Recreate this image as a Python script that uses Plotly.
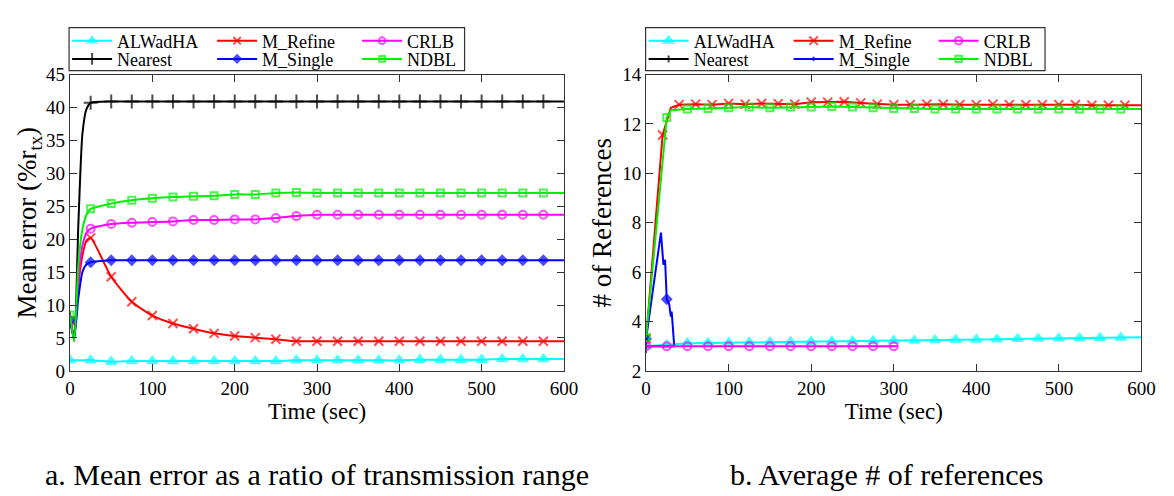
import plotly.graph_objects as go

# ---------------- data: left panel (mean error, % of r_tx) ----------------
t_left = [0, 5, 10, 15, 20, 25, 50, 75, 100, 125, 150, 175, 200, 225, 250, 275,
          300, 325, 350, 375, 400, 425, 450, 475, 500, 525, 550, 575, 600]
alwadha_err = [1.6, 1.6, 1.6, 1.6, 1.6, 1.6, 1.4, 1.5, 1.5, 1.5, 1.5, 1.5, 1.5, 1.5, 1.5, 1.6,
               1.6, 1.6, 1.6, 1.6, 1.6, 1.7, 1.7, 1.7, 1.7, 1.8, 1.8, 1.8, 1.8]
mrefine_err = [7.7, 5.5, 13.0, 17.5, 19.8, 20.2, 14.3, 10.5, 8.4, 7.2, 6.4, 5.7, 5.3, 5.05, 4.8, 4.5,
               4.5, 4.5, 4.5, 4.5, 4.5, 4.5, 4.5, 4.5, 4.5, 4.5, 4.5, 4.5, 4.5]
crlb_err = [7.5, 5.0, 14.0, 19.0, 21.0, 21.6, 22.3, 22.5, 22.6, 22.7, 22.9, 22.9, 23.0, 23.0, 23.2, 23.5,
            23.7, 23.7, 23.7, 23.7, 23.7, 23.7, 23.7, 23.7, 23.7, 23.7, 23.7, 23.7, 23.7]
nearest_err = [8.0, 4.6, 22.0, 36.0, 39.8, 40.7, 40.9, 40.9, 40.9, 40.9, 40.9, 40.9, 40.9, 40.9, 40.9, 40.9,
               40.9, 40.9, 40.9, 40.9, 40.9, 40.9, 40.9, 40.9, 40.9, 40.9, 40.9, 40.9, 40.9]
msingle_err = [7.7, 5.0, 11.0, 15.0, 16.2, 16.5, 16.8, 16.8, 16.8, 16.8, 16.8, 16.8, 16.8, 16.8, 16.8, 16.8,
               16.8, 16.8, 16.8, 16.8, 16.8, 16.8, 16.8, 16.8, 16.8, 16.8, 16.8, 16.8, 16.8]
ndbl_err = [8.5, 4.5, 16.0, 21.5, 23.7, 24.6, 25.4, 25.9, 26.2, 26.4, 26.5, 26.6, 26.8, 26.8, 27.0, 27.1,
            27.0, 27.0, 27.0, 27.0, 27.0, 27.0, 27.0, 27.0, 27.0, 27.0, 27.0, 27.0, 27.0]

# ---------------- data: right panel (# of references) ----------------
t_alwadha_ref = [0, 25, 50, 75, 100, 125, 150, 175, 200, 225, 250, 275, 300, 325, 350, 375,
                 400, 425, 450, 475, 500, 525, 550, 575, 600]
alwadha_ref = [3.0, 3.05, 3.12, 3.13, 3.14, 3.15, 3.16, 3.17, 3.18, 3.19, 3.2, 3.21, 3.22, 3.23, 3.25, 3.26,
               3.27, 3.28, 3.3, 3.31, 3.32, 3.33, 3.34, 3.35, 3.36]
t_mrefine_ref = [0, 20, 30, 40, 60, 80, 100, 120, 140, 160, 180, 200, 220, 240, 260, 280, 300,
                 320, 340, 360, 380, 400, 420, 440, 460, 480, 500, 520, 540, 560, 580, 600]
mrefine_ref = [3.3, 11.55, 12.65, 12.78, 12.8, 12.78, 12.83, 12.8, 12.83, 12.82, 12.8, 12.88, 12.88, 12.9,
               12.85, 12.8, 12.78, 12.78, 12.8, 12.8, 12.78, 12.78, 12.8, 12.78, 12.78, 12.78, 12.78,
               12.78, 12.76, 12.76, 12.76, 12.76]
t_crlb_ref = [0, 25, 50, 75, 100, 125, 150, 175, 200, 225, 250, 275, 300, 305]
crlb_ref = [3.0, 3.0, 3.0, 3.0, 3.0, 3.0, 3.0, 3.0, 3.0, 3.0, 3.0, 3.0, 3.0, 3.0]
t_nearest_ref = [0, 35]
nearest_ref = [3.0, 3.0]
t_msingle_ref = [0, 18, 21, 23, 25, 28, 30, 31, 34]
msingle_ref = [3.3, 7.6, 6.3, 6.5, 4.9, 4.7, 4.2, 4.4, 3.05]
t_ndbl_ref = [0, 25, 30, 50, 75, 100, 125, 150, 175, 200, 225, 250, 275, 300, 325, 350, 375,
              400, 425, 450, 475, 500, 525, 550, 575, 600]
ndbl_ref = [3.35, 12.26, 12.55, 12.6, 12.62, 12.65, 12.68, 12.65, 12.68, 12.68, 12.7, 12.68, 12.65,
            12.62, 12.62, 12.6, 12.6, 12.6, 12.6, 12.6, 12.6, 12.6, 12.6, 12.6, 12.6, 12.6]

# ---------------- figure ----------------
W, H = 1174, 496
FONT = "Times New Roman, Liberation Serif, Times, serif"

def px_x(p):
    return p / W

def px_y(p):
    return 1 - p / H

def msizes(ts, every, size, tmax=600):
    return [size if (t % every == 0 and t < tmax) else 0 for t in ts]

styles = {
    "ALWadHA": dict(color="#00FFFF", symbol="triangle-up", size=9),
    "M_Refine": dict(color="#FF0000", symbol="x-thin-open", size=9),
    "CRLB": dict(color="#FF00FF", symbol="circle-open", size=8),
    "Nearest": dict(color="#000000", symbol="cross-thin-open", size=10),
    "M_Single": dict(color="#0000FF", symbol="diamond", size=7),
    "NDBL": dict(color="#00F000", symbol="square-open", size=7),
}

fig = go.Figure()

left_series = [
    ("ALWadHA", t_left, alwadha_err, 25),
    ("M_Refine", t_left, mrefine_err, 25),
    ("CRLB", t_left, crlb_err, 25),
    ("Nearest", t_left, nearest_err, 25),
    ("M_Single", t_left, msingle_err, 25),
    ("NDBL", t_left, ndbl_err, 25),
]
right_series = [
    ("ALWadHA", t_alwadha_ref, alwadha_ref, 25),
    ("M_Refine", t_mrefine_ref, mrefine_ref, 20),
    ("Nearest", t_nearest_ref, nearest_ref, 25),
    ("M_Single", t_msingle_ref, msingle_ref, 25),
    ("CRLB", t_crlb_ref, crlb_ref, 25),
    ("NDBL", t_ndbl_ref, ndbl_ref, 25),
]

row_of = {"ALWadHA": 0, "M_Refine": 0, "CRLB": 0, "Nearest": 1, "M_Single": 1, "NDBL": 1}
legend_rank = {"ALWadHA": 1, "M_Refine": 2, "CRLB": 3, "Nearest": 4, "M_Single": 5, "NDBL": 6}

for name, ts, vs, every in left_series:
    s = styles[name]
    fig.add_trace(go.Scatter(
        x=ts, y=vs, name=name, mode="lines+markers", xaxis="x", yaxis="y",
        line=dict(color=s["color"], width=2, shape="spline", smoothing=0.6),
        marker=dict(symbol=s["symbol"], size=msizes(ts, every, s["size"]), color=s["color"],
                    line=dict(color=s["color"], width=2)),
        legend=["legend", "legend2"][row_of[name]], legendrank=legend_rank[name],
    ))

for name, ts, vs, every in right_series:
    s = styles[name]
    fig.add_trace(go.Scatter(
        x=ts, y=vs, name=name, mode="lines+markers", xaxis="x2", yaxis="y2",
        line=dict(color=s["color"], width=2),
        marker=dict(symbol=s["symbol"], size=msizes(ts, every, s["size"]), color=s["color"],
                    line=dict(color=s["color"], width=2)),
        legend=["legend3", "legend4"][row_of[name]], legendrank=legend_rank[name],
    ))

axis_common = dict(
    showline=True, linecolor="#333333", linewidth=1.3, mirror="ticks",
    ticks="inside", ticklen=7, tickwidth=1.1, tickcolor="#333333",
    showgrid=False, zeroline=False,
    tickfont=dict(family=FONT, size=19, color="black"),
)

L0, L1 = px_x(58), px_x(560)
R0, R1 = px_x(643.5), px_x(1147)
YB, YT = px_y(368.5), px_y(59)

fig.update_layout(
    width=W, height=H,
    margin=dict(l=0, r=0, t=0, b=0),
    paper_bgcolor="white", plot_bgcolor="white",
    font=dict(family=FONT, color="black"),
    xaxis=dict(domain=[L0, L1], range=[0, 600], dtick=100, anchor="y",
               title=dict(text="Time (sec)", font=dict(family=FONT, size=23), standoff=2),
               **axis_common),
    yaxis=dict(domain=[YB, YT], range=[0, 45], dtick=5, anchor="x",
               title=dict(text="Mean error (%r<sub>tx</sub>)", font=dict(family=FONT, size=27), standoff=0),
               **axis_common),
    xaxis2=dict(domain=[R0, R1], range=[0, 600], dtick=100, anchor="y2",
                title=dict(text="Time (sec)", font=dict(family=FONT, size=23), standoff=2),
                **axis_common),
    yaxis2=dict(domain=[YB, YT], range=[2, 14], dtick=2, anchor="x2",
                title=dict(text="# of References", font=dict(family=FONT, size=27), standoff=2),
                **axis_common),
    showlegend=True,
)

leg_common = dict(orientation="h", xanchor="left", yanchor="middle",
                  bgcolor="rgba(0,0,0,0)", borderwidth=0,
                  font=dict(family=FONT, size=18, color="black"),
                  entrywidth=90, entrywidthmode="pixels", itemwidth=40,
                  traceorder="normal")
fig.update_layout(
    legend=dict(x=px_x(55), y=px_y(24), **leg_common),
    legend2=dict(x=px_x(55), y=px_y(43), **leg_common),
    legend3=dict(x=px_x(641), y=px_y(24), **leg_common),
    legend4=dict(x=px_x(641), y=px_y(43), **leg_common),
)

# legend boxes
for x0, x1 in [(57, 459), (643, 1049)]:
    fig.add_shape(type="rect", xref="paper", yref="paper",
                  x0=px_x(x0), x1=px_x(x1), y0=px_y(55), y1=px_y(10),
                  line=dict(color="#333333", width=1.2), fillcolor="rgba(0,0,0,0)")

# captions
fig.add_annotation(text="a. Mean error as a ratio of transmission range", xref="paper", yref="paper",
                   x=px_x(309), y=px_y(477), showarrow=False, xanchor="center", yanchor="middle",
                   font=dict(family=FONT, size=30, color="black"))
fig.add_annotation(text="b. Average # of references", xref="paper", yref="paper",
                   x=px_x(888), y=px_y(477), showarrow=False, xanchor="center", yanchor="middle",
                   font=dict(family=FONT, size=30, color="black"))

fig.write_html("out.html")
